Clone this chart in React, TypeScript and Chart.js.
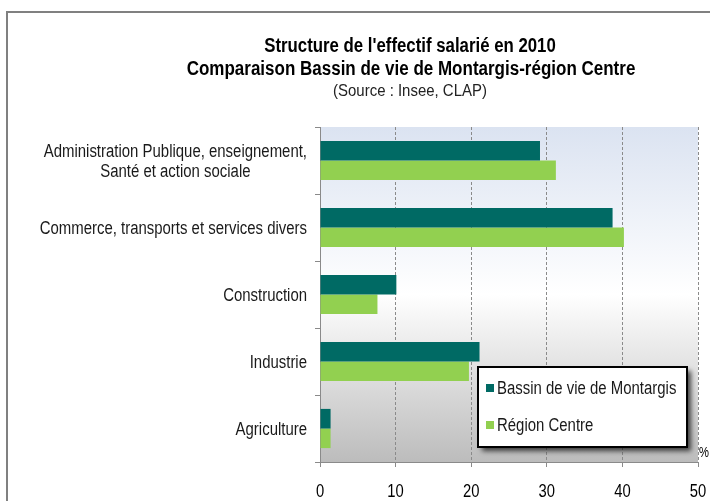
import React, { useEffect, useRef } from 'react';
import { Chart, registerables } from 'chart.js';

Chart.register(...registerables);

const categories: string[][] = [
  ['Administration Publique, enseignement,', 'Santé et action sociale'],
  ['Commerce, transports et services divers'],
  ['Construction'],
  ['Industrie'],
  ['Agriculture'],
];
const montargis = [29.1, 38.7, 10.1, 21.1, 1.4];
const centre = [31.2, 40.2, 7.6, 19.7, 1.4];
const seriesNames = ['Bassin de vie de Montargis', 'Région Centre'];
const xMin = 0;
const xMax = 50;
const xStep = 10;
const titleLines = ["Structure de l'effectif salarié en 2010", 'Comparaison Bassin de vie de Montargis-région Centre'];
const sourceLine = '(Source : Insee, CLAP)';
const unitLabel = '%';

const FONT = '"Liberation Sans", Arial, sans-serif';
const DARK = '#006a64';
const LIGHT = '#92d050';

function drawNarrow(ctx: CanvasRenderingContext2D, text: string, x: number, y: number, align: CanvasTextAlign, sx: number) {
  ctx.save();
  ctx.translate(x, y);
  ctx.scale(sx, 1);
  ctx.textAlign = align;
  ctx.textBaseline = 'alphabetic';
  ctx.fillText(text, 0, 0);
  ctx.restore();
}

const decorPlugin = {
  id: 'decor',
  beforeDraw(chart: any) {
    const { ctx, chartArea: a } = chart;
    ctx.save();
    ctx.fillStyle = '#ffffff';
    ctx.fillRect(0, 0, chart.width, chart.height);
    ctx.strokeStyle = '#808080';
    ctx.lineWidth = 2;
    ctx.strokeRect(7, 12, chart.width + 20, chart.height + 20);
    const g = ctx.createLinearGradient(0, a.top, 0, a.bottom);
    g.addColorStop(0, '#dbe3f1');
    g.addColorStop(0.5, '#ffffff');
    g.addColorStop(1, '#bcbcbc');
    ctx.fillStyle = g;
    ctx.fillRect(a.left, a.top, a.right - a.left, a.bottom - a.top);
    ctx.restore();
  },
  afterDraw(chart: any) {
    const { ctx, chartArea: a } = chart;
    const yScale = chart.scales.y;
    const xScale = chart.scales.x;
    ctx.save();
    // titles
    ctx.fillStyle = '#000';
    ctx.font = 'bold 20px ' + FONT;
    drawNarrow(ctx, titleLines[0], 410, 52, 'center', 0.84);
    drawNarrow(ctx, titleLines[1], 411, 75, 'center', 0.85);
    ctx.font = '17px ' + FONT;
    ctx.fillStyle = '#222';
    drawNarrow(ctx, sourceLine, 410, 96, 'center', 0.88);
    // category labels
    ctx.fillStyle = '#1a1a1a';
    ctx.font = '18px ' + FONT;
    const sx = 0.83;
    const labelRight = a.left - 13;
    categories.forEach((lines, i) => {
      const cy = yScale.getPixelForValue(i);
      const lh = 20;
      const base = cy + 6.5 - ((lines.length - 1) * lh) / 2;
      if (lines.length === 1) {
        drawNarrow(ctx, lines[0], labelRight, base, 'right', sx);
      } else {
        const w = Math.max(...lines.map((l) => ctx.measureText(l).width)) * sx;
        const cx = labelRight - w / 2;
        lines.forEach((l, k) => drawNarrow(ctx, l, cx, base + k * lh, 'center', sx));
      }
    });
    // x tick labels
    ctx.fillStyle = '#000';
    ctx.font = '18.5px ' + FONT;
    xScale.ticks.forEach((t: any) => {
      const px = xScale.getPixelForValue(t.value);
      drawNarrow(ctx, String(t.value), px, 497, 'center', 0.8);
    });
    // legend box
    const lx = 478, ly = 367, lw = 209, lhh = 80;
    ctx.save();
    ctx.shadowColor = 'rgba(0,0,0,0.7)';
    ctx.shadowBlur = 5;
    ctx.shadowOffsetX = 4;
    ctx.shadowOffsetY = 4;
    ctx.fillStyle = '#ffffff';
    ctx.fillRect(lx, ly, lw, lhh);
    ctx.restore();
    ctx.strokeStyle = '#000';
    ctx.lineWidth = 2;
    ctx.strokeRect(lx, ly, lw, lhh);
    const colors = [DARK, LIGHT];
    const baselines = [394, 431];
    ctx.font = '18px ' + FONT;
    seriesNames.forEach((name, i) => {
      ctx.fillStyle = colors[i];
      ctx.fillRect(486, baselines[i] - 10, 8, 8);
      ctx.fillStyle = '#1a1a1a';
      drawNarrow(ctx, name, 497, baselines[i], 'left', 0.83);
    });
    // unit
    ctx.font = '14px ' + FONT;
    ctx.fillStyle = '#000';
    drawNarrow(ctx, unitLabel, a.right + 1, 457, 'left', 0.8);
    ctx.restore();
  },
};

export default function App() {
  const ref = useRef<HTMLCanvasElement | null>(null);
  useEffect(() => {
    if (!ref.current) return;
    const chart = new Chart(ref.current, {
      type: 'bar',
      data: {
        labels: categories.map((c) => c.join(' ')),
        datasets: [
          { label: seriesNames[0], data: montargis, backgroundColor: DARK, borderWidth: 0 },
          { label: seriesNames[1], data: centre, backgroundColor: LIGHT, borderWidth: 0 },
        ],
      },
      options: {
        indexAxis: 'y',
        animation: false,
        responsive: false,
        devicePixelRatio: 1,
        layout: { padding: { left: 0, right: 12, top: 127, bottom: 0 } },
        datasets: { bar: { categoryPercentage: 0.585, barPercentage: 1.0 } },
        plugins: {
          legend: { display: false },
          title: { display: false },
          tooltip: { enabled: false },
        },
        scales: {
          x: {
            min: xMin,
            max: xMax,
            afterFit: (s: any) => { s.height = 39; },
            ticks: { stepSize: xStep, display: false },
            grid: {
              color: '#8a8a8a',
              lineWidth: 1,
              tickLength: 5,
              tickColor: '#8a8a8a',
              tickBorderDash: [],
            },
            border: { display: true, color: '#8a8a8a', width: 1, dash: [3, 2] },
          },
          y: {
            afterFit: (s: any) => { s.width = 320; },
            ticks: { display: false },
            grid: {
              offset: true,
              drawOnChartArea: false,
              drawTicks: true,
              tickLength: 5,
              tickColor: '#8a8a8a',
            },
            border: { display: true, color: '#8a8a8a', width: 1 },
          },
        },
      },
      plugins: [decorPlugin],
    } as any);
    return () => chart.destroy();
  }, []);
  return (
    <div style={{ position: 'absolute', left: 0, top: 0, width: 710, height: 501 }}>
      <canvas ref={ref} width={710} height={501} />
    </div>
  );
}
